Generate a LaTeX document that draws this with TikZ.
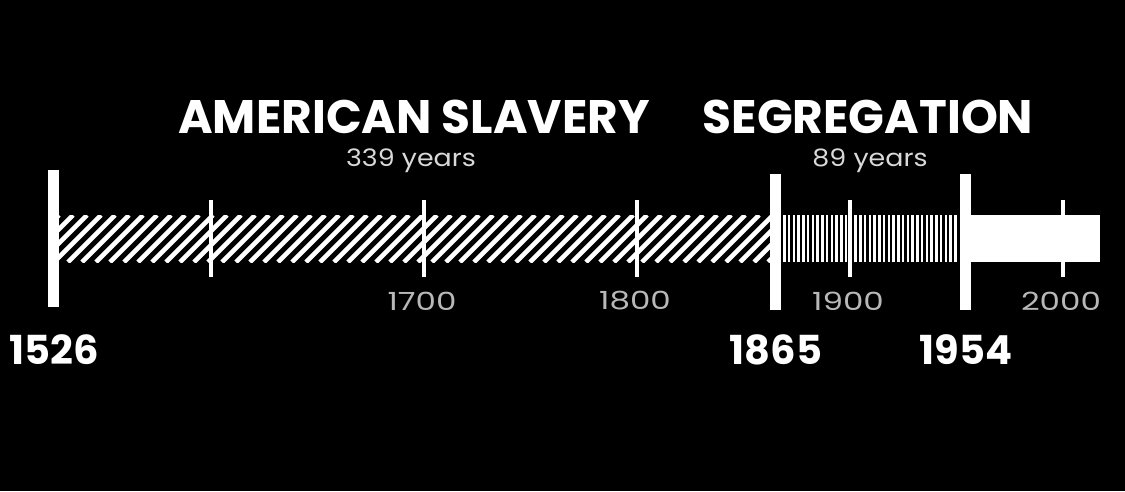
\documentclass[tikz,border=0pt]{standalone}
\usepackage{fontspec}
\newfontfamily\popfont{Poppins}
\newfontfamily\popwide[FakeStretch=1.3]{Poppins}
\newfontfamily\popspan[FakeStretch=1.12]{Poppins}
\usetikzlibrary{calc}
\tikzset{
  era/.style={font=\popfont\bfseries\fontsize{47}{47}\selectfont, text=white, inner sep=0pt},
  span/.style={font=\popspan\fontsize{24}{24}\selectfont, text=white!85!black, inner sep=0pt},
  bigyear/.style={font=\popfont\bfseries\fontsize{40}{40}\selectfont, text=white, inner sep=0pt},
  smallyear/.style={font=\popwide\fontsize{25}{25}\selectfont, text=white!72!black, inner sep=0pt},
}
\begin{document}
\begin{tikzpicture}[x=1pt,y=-1pt]
  % background, fixes the page size
  \fill[black] (0,0) rectangle (1125,491);
  % slavery: diagonal hatching
  \begin{scope}
    \clip (58,215) rectangle (770,262);
    \foreach \i in {0,...,55}
      \draw[white,line width=4.6pt] ({12+\i*14},262) -- ++(47,-47);
  \end{scope}
  % segregation: vertical stripes
  \foreach \i in {0,...,36}
    \fill[white] ({783+\i*4.75},215) rectangle ++(2.6,47);
  % after 1954: solid bar
  \fill[white] (969,215) rectangle (1100,262);
  % century ticks
  \foreach \yr in {1600,1700,1800,1900,2000}
    \fill[white] ({637+(\yr-1800)*2.13-1.8},200) rectangle ++(3.6,77);
  % era boundaries
  \foreach \yr/\top/\bot in {1526/170/307, 1865/174/310, 1954/174/310}
    \fill[white] ({637+(\yr-1800)*2.13-5.5},\top) rectangle ++(11,{\bot-\top});
  % titles
  \node[era] (slavery) at (414,117) {AMERICAN SLAVERY};
  \node[span] (slaveryspan) at (411,161) {339 years};
  \node[era] (segregation) at (868,117) {SEGREGATION};
  \node[span] (segspan) at (870,161) {89 years};
  % year labels
  \foreach \yr in {1700,1800,1900,2000}
    \node[smallyear] (lbl\yr) at ({637+(\yr-1800)*2.13-2},301) {\yr};
  \node[bigyear] (start) at (54,350) {1526};
  \node[bigyear] (emancipation) at (776,350) {1865};
  \node[bigyear] (brown) at (966,350) {1954};
\end{tikzpicture}
\end{document}
